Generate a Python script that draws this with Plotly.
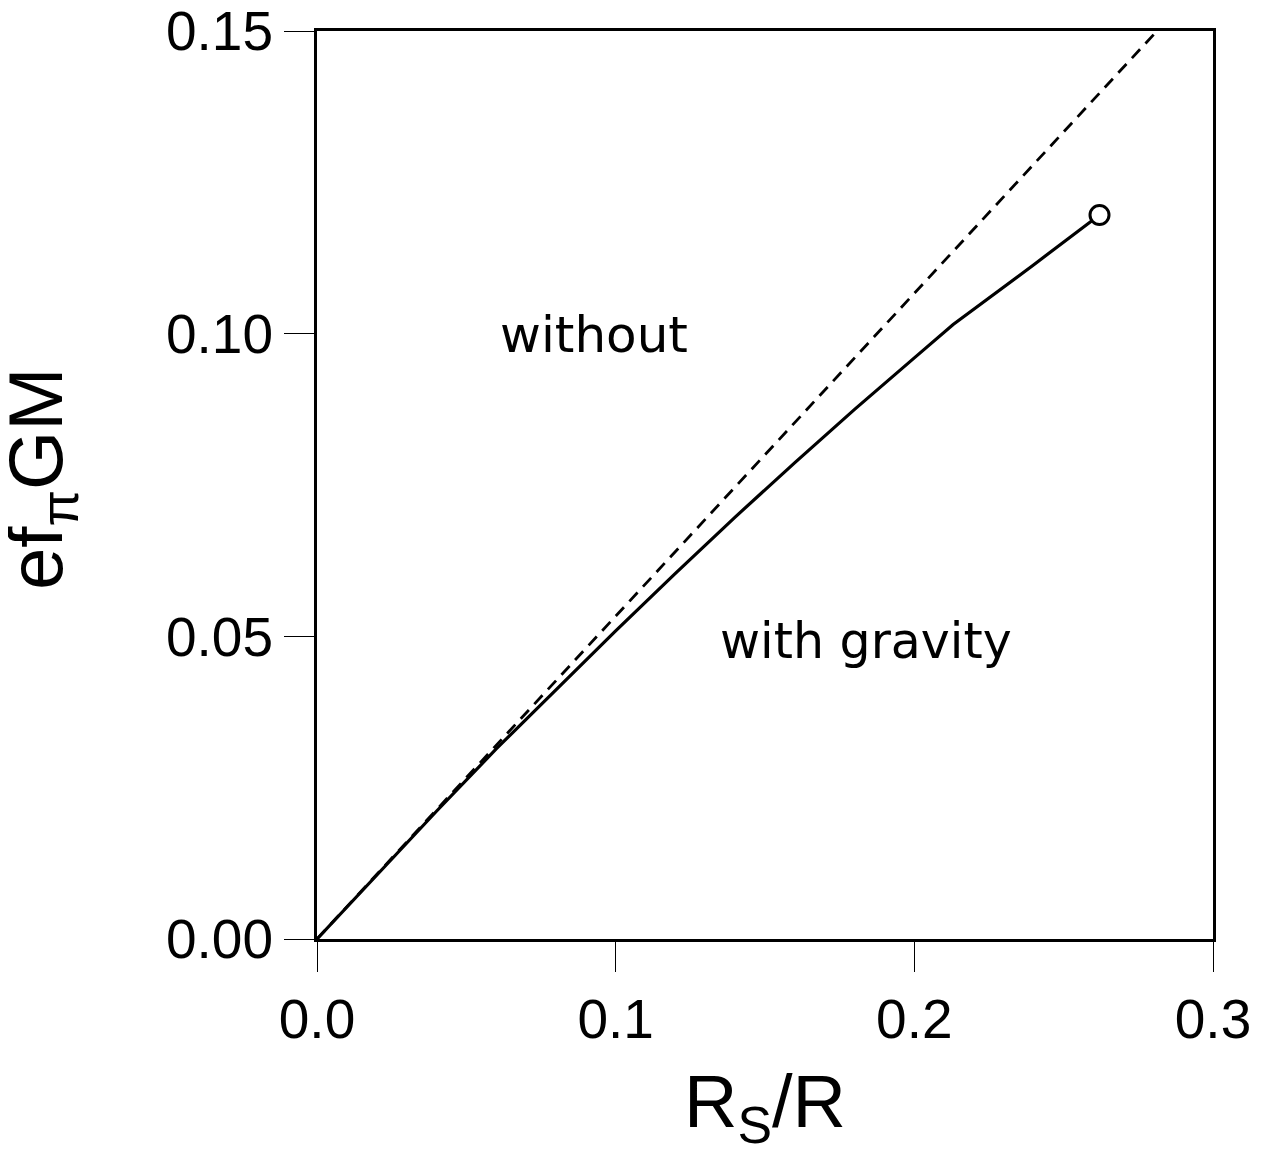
import plotly.graph_objects as go

# Solid curve (with gravity)
grav_x = [0.0, 0.02, 0.04, 0.06, 0.08, 0.10, 0.12, 0.14, 0.16, 0.18, 0.20, 0.213, 0.24, 0.262]
grav_y = [0.0, 0.0106, 0.0211, 0.0314, 0.0412, 0.0509, 0.0604, 0.0697, 0.0787, 0.0875, 0.0960, 0.1015, 0.1114, 0.1196]

# Dashed line (without gravity)
nograv_x = [0.0, 0.28125]
nograv_y = [0.0, 0.15]

# End point marker
end_x = [0.262]
end_y = [0.1196]

x_ticks = [0.0, 0.1, 0.2, 0.3]
x_ticklabels = ["0.0", "0.1", "0.2", "0.3"]
y_ticks = [0.0, 0.05, 0.10, 0.15]
y_ticklabels = ["0.00", "0.05", "0.10", "0.15"]

FONT = "Liberation Sans, Arial, Helvetica, sans-serif"

fig = go.Figure()
fig.add_trace(go.Scatter(x=nograv_x, y=nograv_y, mode="lines",
                         line=dict(color="black", width=2.8, dash="12px,8px"),
                         showlegend=False, hoverinfo="skip"))
fig.add_trace(go.Scatter(x=grav_x, y=grav_y, mode="lines",
                         line=dict(color="black", width=3.2),
                         showlegend=False))
fig.add_trace(go.Scatter(x=end_x, y=end_y, mode="markers",
                         marker=dict(symbol="circle", size=19, color="white",
                                     line=dict(color="black", width=3)),
                         showlegend=False))

fig.add_annotation(x=0.0606, y=0.0997, xref="x", yref="y", text="without",
                   showarrow=False, xanchor="left", yanchor="middle",
                   font=dict(family="DejaVu Sans", size=50, color="black"))
fig.add_annotation(x=0.1342, y=0.0492, xref="x", yref="y", text="with gravity",
                   showarrow=False, xanchor="left", yanchor="middle",
                   font=dict(family="DejaVu Sans", size=49, color="black"))

# y-axis title
fig.add_annotation(x=0, y=0.5066, xref="paper", yref="paper", text="ef<sub>π</sub>GM",
                   showarrow=False, xanchor="center", yanchor="middle", textangle=-90,
                   xshift=-276,
                   font=dict(family=FONT, size=76, color="black"))

axis_common = dict(showgrid=False, zeroline=False, showline=True, linecolor="black",
                   linewidth=3, mirror=True, ticks="outside", ticklen=30,
                   tickwidth=1.2, tickcolor="black", ticklabeloverflow="allow",
                   tickfont=dict(family=FONT, size=55, color="black"))

fig.update_xaxes(range=[0, 0.3], tickvals=x_ticks, ticktext=x_ticklabels,
                 title=dict(text="R<sub>S</sub>/R", font=dict(family=FONT, size=74, color="black"),
                            standoff=27),
                 **axis_common)
fig.update_yaxes(range=[0, 0.15], tickvals=y_ticks, ticktext=y_ticklabels,
                 **axis_common)

fig.update_layout(width=1261, height=1151,
                  margin=dict(l=309, r=56, t=23, b=220, autoexpand=False),
                  plot_bgcolor="white", paper_bgcolor="white")

fig.write_html("out.html")
